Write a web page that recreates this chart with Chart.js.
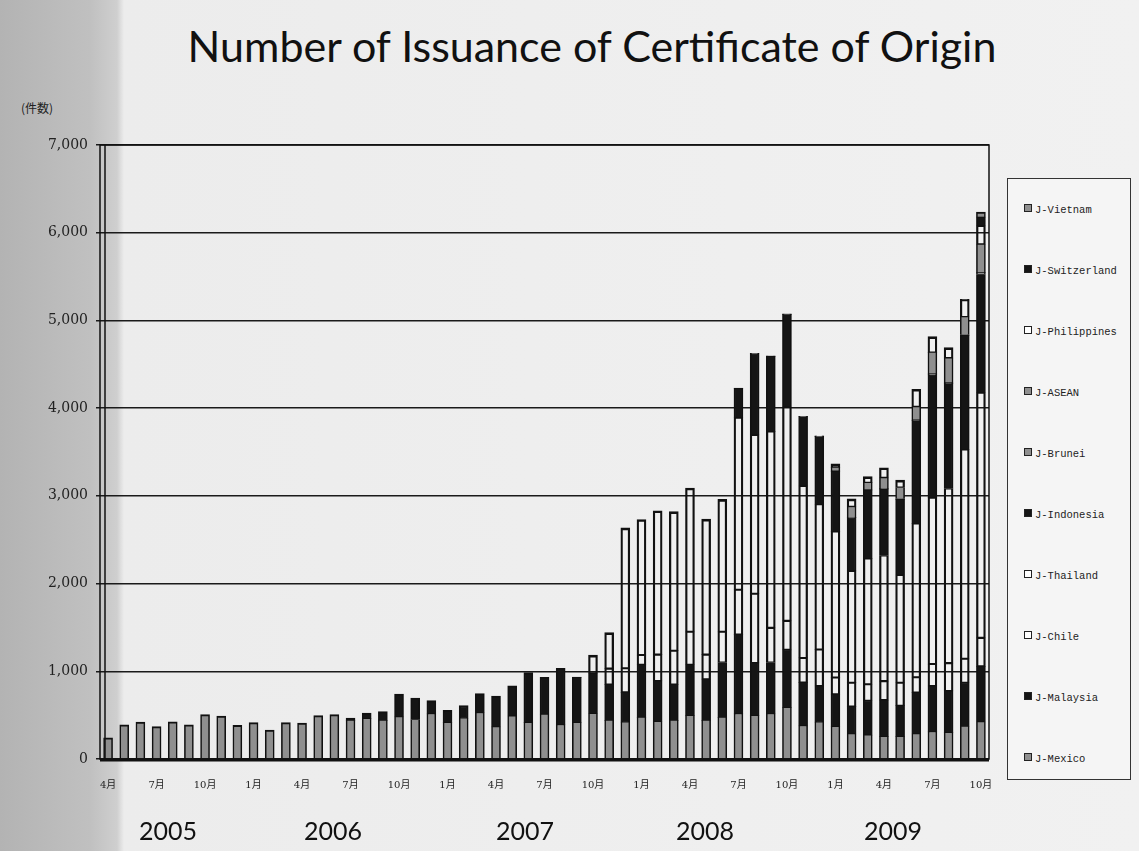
<!DOCTYPE html>
<html>
<head>
<meta charset="utf-8">
<script src="https://cdn.jsdelivr.net/npm/chart.js@4"></script>
<style>
body {
  margin: 0;
  width: 1139px;
  height: 851px;
  overflow: hidden;
  position: relative;
  background: linear-gradient(to right, #b3b3b3 0px, #c0c0c0 90px, #cfcfcf 117px, #ececec 124px, #f1f1f1 100%);
  font-family: Lato, sans-serif;
}
#chart { position: absolute; left: 0; top: 0; }
.title {
  position: absolute; left: 592px; top: 20px; transform: translateX(-50%);
  white-space: nowrap; font-size: 43px; color: #111;
}
.unit {
  position: absolute; left: 21px; top: 99px;
  font-family: "Noto Sans CJK JP"; font-size: 12px; color: #222;
}
.year {
  position: absolute; top: 815px; transform: translateX(-50%);
  font-size: 25px; color: #111;
}
#legend {
  position: absolute; left: 1007px; top: 178px; width: 124px; height: 602px;
  border: 1.5px solid #333; box-sizing: border-box; background: #f5f5f5;
}
.item {
  position: absolute; left: 16px; height: 12px; line-height: 12px;
  font-family: "Liberation Mono", monospace; font-size: 10.5px; color: #222; white-space: nowrap;
}
.item span {
  display: inline-block; width: 6px; height: 6px; border: 1px solid #222;
  margin-right: 3px; vertical-align: 1px;
}
</style>
</head>
<body>
<div class="title">Number of Issuance of Certificate of Origin</div>
<div class="unit">(件数)</div>
<canvas id="chart" width="1139" height="851"></canvas>
<div id="legend"></div>
<script>
const months = [
  '2005-04','2005-05','2005-06','2005-07','2005-08','2005-09','2005-10','2005-11','2005-12',
  '2006-01','2006-02','2006-03','2006-04','2006-05','2006-06','2006-07','2006-08','2006-09','2006-10','2006-11','2006-12',
  '2007-01','2007-02','2007-03','2007-04','2007-05','2007-06','2007-07','2007-08','2007-09','2007-10','2007-11','2007-12',
  '2008-01','2008-02','2008-03','2008-04','2008-05','2008-06','2008-07','2008-08','2008-09','2008-10','2008-11','2008-12',
  '2009-01','2009-02','2009-03','2009-04','2009-05','2009-06','2009-07','2009-08','2009-09','2009-10'
];
const years = ['2005', '2006', '2007', '2008', '2009'];

// stacked from the bottom up
const mexico = [240,390,420,370,425,390,505,490,385, 415,330,415,410,495,505,440,460,440,480,450,515,
  415,465,527,366,490,415,510,390,415,516,440,420, 475,425,440,495,440,475,515,495,515,585,378,420,
  368,285,272,255,255,285,310,300,373,422];
const malaysia = [0,0,0,0,0,0,0,0,0, 0,0,0,0,0,0,27,64,100,260,245,150,
  140,145,218,350,345,570,420,645,515,462,410,340, 600,465,410,580,470,625,905,600,585,660,493,412,
  370,312,392,417,353,472,522,476,496,634];
const chile = [0,0,0,0,0,0,0,0,0, 0,0,0,0,0,0,0,0,0,0,0,0,
  0,0,0,0,0,0,0,0,5,207,180,275, 110,300,385,375,280,350,510,790,395,330,281,417,
  192,273,188,216,261,176,250,317,273,325];
const thailand = [0,0,0,0,0,0,0,0,0, 0,0,0,0,0,0,0,0,0,0,0,0,
  0,0,0,0,0,0,0,0,0,0,410,1600, 1545,1640,1585,1640,1545,1510,1960,1810,2240,2437,1960,1655,
  1663,1275,1433,1432,1229,1753,1897,1991,2388,2794];
const indonesia = [0,0,0,0,0,0,0,0,0, 0,0,0,0,0,0,0,0,0,0,0,0,
  0,0,0,0,0,0,0,0,0,0,0,0, 0,0,0,0,0,0,335,925,855,1055,790,770,
  687,605,779,755,862,1171,1401,1196,1300,1349];
const brunei = [0,0,0,0,0,0,0,0,0, 0,0,0,0,0,0,0,0,0,0,0,0,
  0,0,0,0,0,0,0,0,0,0,0,0, 0,0,0,0,0,0,4,5,5,8,5,5,
  5,5,6,10,10,8,10,10,10,24];
const asean = [0,0,0,0,0,0,0,0,0, 0,0,0,0,0,0,0,0,0,0,0,0,
  0,0,0,0,0,0,0,0,0,0,0,0, 0,0,0,0,0,0,0,0,0,0,0,3,
  40,120,80,120,125,150,245,280,200,320];
const philippines = [0,0,0,0,0,0,0,0,0, 0,0,0,0,0,0,0,0,0,0,0,0,
  0,0,0,0,0,0,0,0,0,0,0,0, 0,0,0,0,0,0,0,0,0,0,0,2,
  40,90,70,115,85,200,180,120,190,210];
const switzerland = [0,0,0,0,0,0,0,0,0, 0,0,0,0,0,0,0,0,0,0,0,0,
  0,0,0,0,0,0,0,0,0,0,0,0, 0,0,0,0,0,0,0,0,0,0,0,0,
  0,0,0,0,0,0,0,0,10,100];
const vietnam = [0,0,0,0,0,0,0,0,0, 0,0,0,0,0,0,0,0,0,0,0,0,
  0,0,0,0,0,0,0,0,0,0,0,0, 0,0,0,0,0,0,0,0,0,0,0,0,
  0,0,0,0,0,0,0,0,0,57];

const GRAY = '#8f8f8f', BLACK = '#151515', WHITE = 'rgba(255,255,255,0)';

const series = [
  ['J-Mexico', mexico, GRAY],
  ['J-Malaysia', malaysia, BLACK],
  ['J-Chile', chile, WHITE],
  ['J-Thailand', thailand, WHITE],
  ['J-Indonesia', indonesia, BLACK],
  ['J-Brunei', brunei, GRAY],
  ['J-ASEAN', asean, GRAY],
  ['J-Philippines', philippines, WHITE],
  ['J-Switzerland', switzerland, BLACK],
  ['J-Vietnam', vietnam, GRAY]
];

// thin lines between segments, heavier outline on the sides and the top of each column
const segBorder = c => {
  const i = c.dataIndex, di = c.datasetIndex;
  const isTop = series.slice(di + 1).every(s => !s[1][i]);
  return { left: 1.6, right: 1.6, top: isTop ? 2 : 0.7, bottom: di === 0 ? 0 : 0.7 };
};

const datasets = series.map(s => ({
  label: s[0],
  data: s[1].map(v => v || null),
  backgroundColor: s[2],
  borderColor: '#111',
  borderWidth: segBorder,
  borderSkipped: false,
  barThickness: 9
}));

// outline of the plot area and the heavy base line
const frame = {
  id: 'frame',
  afterDatasetsDraw(chart) {
    const a = chart.chartArea, ctx = chart.ctx;
    ctx.save();
    ctx.strokeStyle = '#111';
    ctx.lineWidth = 1.5;
    ctx.strokeRect(a.left, a.top, a.right - a.left, a.bottom - a.top);
    ctx.beginPath();
    ctx.moveTo(a.left + 5, a.top);
    ctx.lineTo(a.left + 5, a.bottom);
    ctx.stroke();
    ctx.lineWidth = 3;
    ctx.beginPath();
    ctx.moveTo(a.left, a.bottom + 1);
    ctx.lineTo(a.right, a.bottom + 1);
    ctx.stroke();
    ctx.restore();
  }
};

new Chart(document.getElementById('chart'), {
  type: 'bar',
  data: { labels: months, datasets: datasets },
  options: {
    responsive: false,
    animation: false,
    layout: { padding: { left: 10, right: 150, top: 145, bottom: 40 } },
    plugins: { legend: { display: false }, tooltip: { enabled: false } },
    scales: {
      x: {
        stacked: true,
        grid: { display: false, drawTicks: false },
        border: { display: false },
        ticks: {
          autoSkip: false,
          maxRotation: 0,
          padding: 20,
          color: '#222',
          font: { family: 'DejaVu Serif, "Noto Sans CJK JP"', size: 10 },
          callback: (v, i) => i % 3 === 0 ? parseInt(months[i].slice(5)) + '月' : ''
        },
        afterFit: scale => { scale.height = 52; }
      },
      y: {
        stacked: true,
        min: 0,
        max: 7000,
        grid: { color: '#1a1a1a', lineWidth: 1.5, tickLength: 4 },
        border: { display: false },
        ticks: {
          stepSize: 1000,
          padding: 8,
          color: '#222',
          font: { family: 'DejaVu Serif', size: 14 },
          callback: v => v.toLocaleString('en-US')
        },
        afterFit: scale => { scale.width = 90; }
      }
    }
  },
  plugins: [frame]
});

const yearLeft = [168, 333, 525, 705, 893];
years.forEach((y, i) => {
  const d = document.createElement('div');
  d.className = 'year';
  d.style.left = yearLeft[i] + 'px';
  d.textContent = y;
  document.body.appendChild(d);
});

const legend = document.getElementById('legend');
series.slice().reverse().forEach((s, i) => {
  const d = document.createElement('div');
  d.className = 'item';
  d.style.top = (25 + i * 61) + 'px';
  const box = document.createElement('span');
  box.style.background = s[2] === WHITE ? '#fff' : s[2];
  d.appendChild(box);
  d.appendChild(document.createTextNode(s[0]));
  legend.appendChild(d);
});
</script>
</body>
</html>
